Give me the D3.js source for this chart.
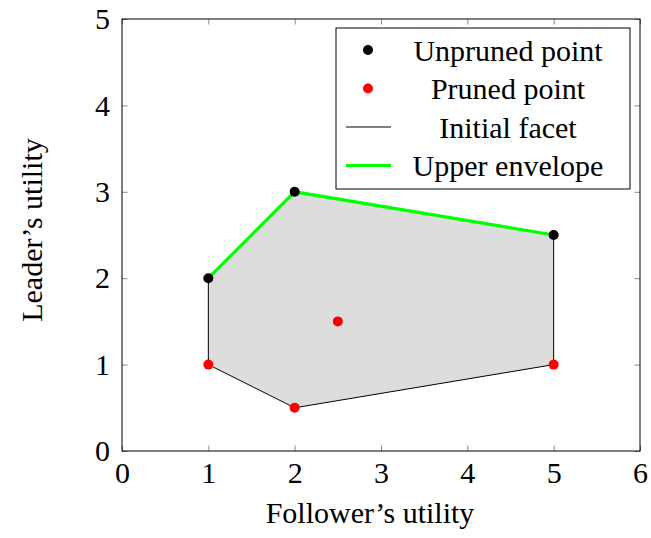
<!DOCTYPE html>
<html>
<head>
<meta charset="utf-8">
<script src="https://cdn.jsdelivr.net/npm/d3@7"></script>
<style>
svg text { font-family: 'Liberation Serif', 'Tinos', 'Times New Roman' !important; }
</style>
</head>
<body style="margin:0">
<svg width="651" height="538"></svg>
<script>
// hull of the initial facet
var facetX = [1, 2, 5, 5, 2, 1]
var facetY = [2, 3, 2.5, 1, 0.5, 1]
// upper envelope
var envX = [1, 2, 5]
var envY = [2, 3, 2.5]
var unprunedX = [1, 2, 5]
var unprunedY = [2, 3, 2.5]
var prunedX = [1, 2, 2.5, 5]
var prunedY = [1, 0.5, 1.5, 1]
var xTicks = [0, 1, 2, 3, 4, 5, 6]
var yTicks = [0, 1, 2, 3, 4, 5]
var legendLabels = ["Unpruned point", "Pruned point", "Initial facet", "Upper envelope"]

var FS = 30

var margins = {top:19, right:11, bottom:87, left:122}
var screen = {width:651, height:538}
var width = screen.width - margins.left - margins.right
var height = screen.height - margins.top - margins.bottom

var svg = d3.select("svg")
var g = svg.append("g")
    .attr("transform", "translate(" + margins.left + "," + margins.top + ")")

var xScale = d3.scaleLinear().domain([0, 6]).range([0, width])
var yScale = d3.scaleLinear().domain([0, 5]).range([height, 0])

var zip = function(xs, ys) { return xs.map(function(x, i) { return [x, ys[i]] }) }
var line = d3.line().x(function(d) { return xScale(d[0]) }).y(function(d) { return yScale(d[1]) })

// filled facet
g.append("path")
    .datum(zip(facetX, facetY))
    .attr("d", function(d) { return line(d) + "Z" })
    .attr("fill", "#dddddd")
    .attr("stroke", "#000")
    .attr("stroke-width", 1)

g.append("path")
    .datum(zip(envX, envY))
    .attr("d", line)
    .attr("fill", "none")
    .attr("stroke", "#00ff00")
    .attr("stroke-width", 3.2)

g.selectAll(".unpruned")
    .data(zip(unprunedX, unprunedY))
    .enter().append("circle")
    .attr("cx", function(d) { return xScale(d[0]) })
    .attr("cy", function(d) { return yScale(d[1]) })
    .attr("r", 5)
    .attr("fill", "#000")

g.selectAll(".pruned")
    .data(zip(prunedX, prunedY))
    .enter().append("circle")
    .attr("cx", function(d) { return xScale(d[0]) })
    .attr("cy", function(d) { return yScale(d[1]) })
    .attr("r", 5)
    .attr("fill", "#ff0000")

// ticks (inside, mirrored)
var tickSize = 5.5
var styleAxis = function(sel) {
    sel.attr("font-family", null).attr("font-size", FS)
    sel.select(".domain").remove()
    sel.selectAll(".tick line").attr("stroke", "#888").attr("stroke-width", 1)
}
g.append("g").attr("transform", "translate(0," + height + ")")
    .call(d3.axisBottom(xScale).tickValues(xTicks).tickSize(-tickSize).tickPadding(9).tickFormat(d3.format("d")))
    .call(styleAxis)
    .selectAll("text").attr("dy", "0.75em")
g.append("g")
    .call(d3.axisTop(xScale).tickValues(xTicks).tickSize(-tickSize).tickFormat(""))
    .call(styleAxis)
g.append("g")
    .call(d3.axisLeft(yScale).tickValues(yTicks).tickSize(-tickSize).tickPadding(12).tickFormat(d3.format("d")))
    .call(styleAxis)
g.append("g").attr("transform", "translate(" + width + ",0)")
    .call(d3.axisRight(yScale).tickValues(yTicks).tickSize(-tickSize).tickFormat(""))
    .call(styleAxis)

g.append("rect")
    .attr("width", width).attr("height", height)
    .attr("fill", "none").attr("stroke", "#000").attr("stroke-width", 1)

// axis labels
svg.append("text")
    .attr("x", margins.left + width / 2 - 11)
    .attr("y", 523)
    .attr("text-anchor", "middle")
    .attr("font-size", FS)
    .text("Follower\u2019s utility")
svg.append("text")
    .attr("transform", "translate(42," + (margins.top + height / 2 - 5) + ") rotate(-90)")
    .attr("text-anchor", "middle")
    .attr("font-size", FS)
    .text("Leader\u2019s utility")

// legend
var legend = svg.append("g").attr("transform", "translate(336,28)")
legend.append("rect")
    .attr("width", 294).attr("height", 161)
    .attr("fill", "#fff").attr("stroke", "#000").attr("stroke-width", 1)
var rowY = function(i) { return 22 + i * 38.5 }
legend.selectAll(".lab")
    .data(legendLabels)
    .enter().append("text")
    .attr("x", 172)
    .attr("y", function(d, i) { return rowY(i) })
    .attr("dy", "0.35em")
    .attr("text-anchor", "middle")
    .attr("font-size", FS)
    .text(function(d) { return d })
legend.append("circle").attr("cx", 32).attr("cy", rowY(0)).attr("r", 5).attr("fill", "#000")
legend.append("circle").attr("cx", 32).attr("cy", rowY(1)).attr("r", 5).attr("fill", "#ff0000")
legend.append("line").attr("x1", 10).attr("x2", 55).attr("y1", rowY(2)).attr("y2", rowY(2))
    .attr("stroke", "#000").attr("stroke-width", 1)
legend.append("line").attr("x1", 10).attr("x2", 55).attr("y1", rowY(3)).attr("y2", rowY(3))
    .attr("stroke", "#00ff00").attr("stroke-width", 3.2)
</script>
</body>
</html>
